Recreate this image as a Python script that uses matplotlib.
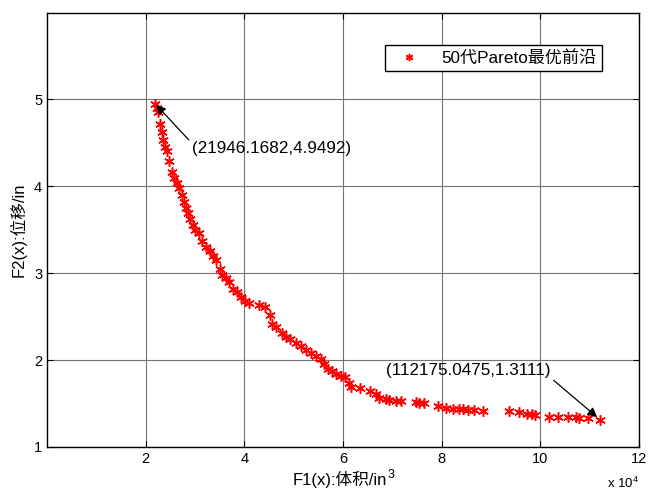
import matplotlib
matplotlib.use('Agg')
import matplotlib.pyplot as plt

plt.rcParams['font.family'] = ['Liberation Sans', 'Noto Sans CJK SC', 'DejaVu Sans']
plt.rcParams['mathtext.fontset'] = 'custom'
plt.rcParams['mathtext.rm'] = 'Liberation Sans'
plt.rcParams['mathtext.default'] = 'regular'

# Pareto front: volume (in^3) and displacement (in)
f1 = [21946, 22300, 22600, 23000, 23300, 23600, 24000, 24300, 24800, 25300,
      25800, 26300, 26800, 27300, 27800, 28200, 28600, 29000, 29500, 30000,
      30800, 31500, 32300, 33000, 33700, 34200, 35000, 35500, 36200, 37000,
      37800, 38500, 39300, 40200, 41000, 43000, 44200, 45300, 45700, 46500,
      47600, 48500, 49300, 50500, 51500, 52500, 53500, 54500, 55500, 56200,
      57000, 57800, 58600, 59600, 60500, 61200, 61700, 63500, 65500, 66800,
      67400, 68800, 69400, 70800, 71800, 74800, 75500, 76500, 79300, 80800,
      82300, 83500, 84300, 85300, 86500, 88300, 93700, 95600, 97300, 98300,
      99000, 101800, 103500, 105700, 107300, 107900, 109700, 112175]
f2 = [4.9492, 4.90, 4.85, 4.72, 4.62, 4.53, 4.45, 4.41, 4.29, 4.16,
      4.10, 4.04, 3.98, 3.90, 3.82, 3.75, 3.69, 3.62, 3.55, 3.50,
      3.46, 3.37, 3.30, 3.26, 3.20, 3.15, 3.05, 2.98, 2.94, 2.90,
      2.82, 2.78, 2.73, 2.68, 2.66, 2.63, 2.61, 2.52, 2.42, 2.38,
      2.31, 2.27, 2.24, 2.20, 2.16, 2.12, 2.08, 2.05, 2.01, 1.96,
      1.90, 1.87, 1.84, 1.82, 1.80, 1.74, 1.69, 1.68, 1.64, 1.61,
      1.56, 1.55, 1.54, 1.53, 1.53, 1.52, 1.51, 1.50, 1.47, 1.45,
      1.44, 1.44, 1.44, 1.43, 1.42, 1.41, 1.41, 1.40, 1.38, 1.38,
      1.37, 1.35, 1.35, 1.34, 1.34, 1.33, 1.33, 1.3111]

x_ticks = [20000, 40000, 60000, 80000, 100000, 120000]
x_tick_labels = ['2', '4', '6', '8', '10', '12']
y_ticks = [1, 2, 3, 4, 5]

fig = plt.figure(figsize=(6.48, 4.93), dpi=100)
ax = fig.add_axes([0.0725, 0.0935, 0.9135, 0.881])

# MATLAB style asterisk marker
ax.plot(f1, f2, linestyle='none', marker=(6, 2, 0), color='red', markersize=7.5,
        markeredgewidth=1.1, label='50代Pareto最优前沿')

ax.set_xlim(0, 120000)
ax.set_ylim(1, 6)
ax.set_xticks(x_ticks)
ax.set_xticklabels(x_tick_labels)
ax.set_yticks(y_ticks)
ax.tick_params(direction='in', top=True, right=True, labelsize=10.5, length=4,
               color='black')
ax.grid(True, color='0.45', linewidth=0.8)
for s in ax.spines.values():
    s.set_linewidth(1.0)

xl = ax.set_xlabel('F1(x):体积/in', fontsize=12, labelpad=4)
xl.set_x(0.5 - 0.006)
ax.set_ylabel('F2(x):位移/in', fontsize=12, labelpad=5)
ax.text(1.0, -0.085, 'x 10$^4$', transform=ax.transAxes, ha='right',
        va='center', fontsize=9.5)

# superscript 3 after the x label, placed relative to the label itself
ax.annotate('3', xy=(1.0, 1.0), xycoords=xl, xytext=(0.5, 1.5),
            textcoords='offset points', fontsize=9, ha='left', va='top',
            annotation_clip=False)

# annotate the two end points of the front
ax.annotate('(%.4f,%.4f)' % (21946.1682, 4.9492), xy=(f1[0], f2[0]),
            xytext=(29300, 4.44), fontsize=12.3, ha='left', va='center',
            arrowprops=dict(arrowstyle='-|>', color='black', lw=0.9,
                            mutation_scale=14, shrinkA=0, shrinkB=1,
                            relpos=(0.0, 0.85)))
ax.annotate('(%.4f,%.4f)' % (112175.0475, 1.3111), xy=(f1[-1], f2[-1]),
            xytext=(68800, 1.88), fontsize=12.3, ha='left', va='center',
            arrowprops=dict(arrowstyle='-|>', color='black', lw=0.9,
                            mutation_scale=14, shrinkA=0, shrinkB=3,
                            relpos=(1.0, 0.0)))

leg = ax.legend(loc='upper right', bbox_to_anchor=(0.937, 0.925), fontsize=12.3,
                fancybox=False, edgecolor='black', framealpha=1,
                markerscale=0.7, handlelength=2.2, borderpad=0.3,
                borderaxespad=0)
leg.get_frame().set_linewidth(1.0)

fig.savefig('out.png', dpi=100)
